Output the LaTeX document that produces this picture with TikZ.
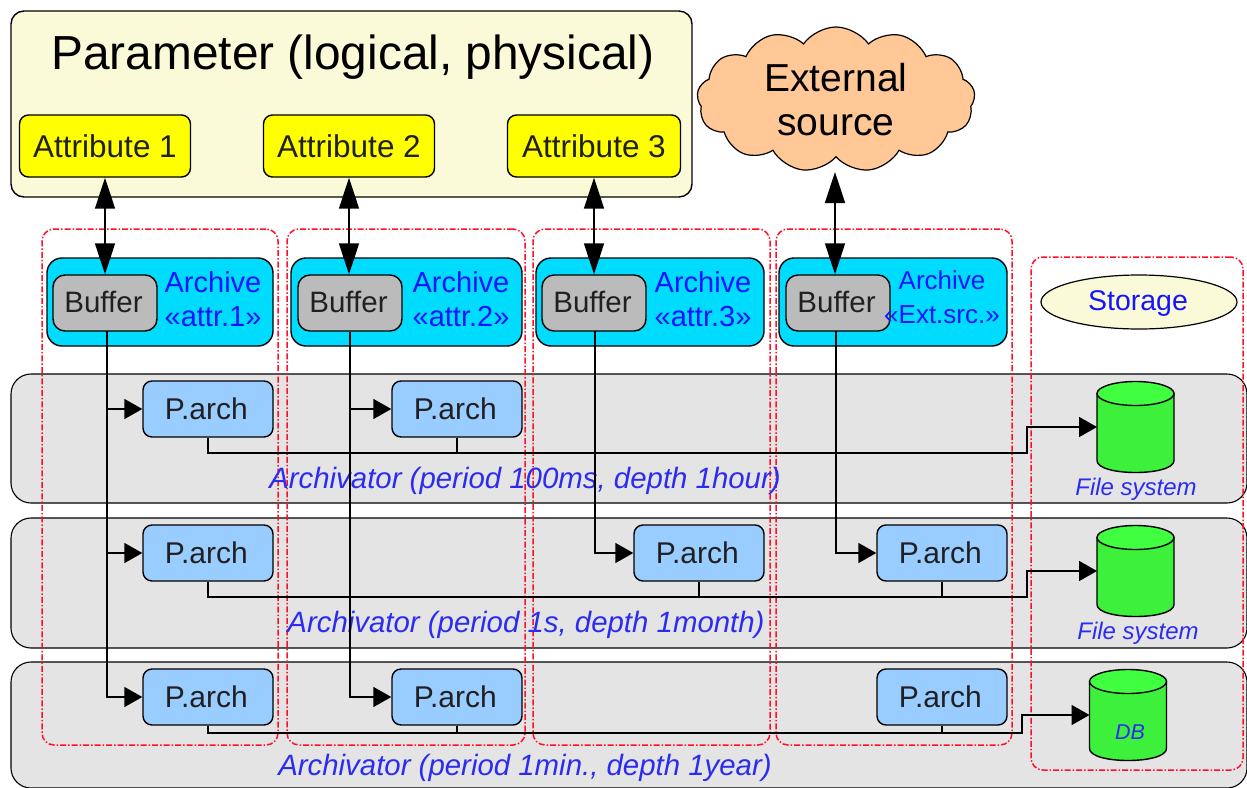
\documentclass[tikz,border=0pt]{standalone}
\usepackage{fontspec}
\setmainfont{Liberation Sans}
\usetikzlibrary{shapes.geometric,shapes.symbols,arrows.meta}
\definecolor{paramfill}{HTML}{FAFAD8}
\definecolor{attrfill}{HTML}{FFFF00}
\definecolor{archfill}{HTML}{00DCFF}
\definecolor{buffill}{HTML}{BBBBBB}
\definecolor{parchfill}{HTML}{99CCFF}
\definecolor{lanefill}{HTML}{E4E4E4}
\definecolor{cloudfill}{HTML}{FFC896}
\definecolor{cylbody}{HTML}{3CF03C}
\definecolor{cyltop}{HTML}{40FF40}
\definecolor{blueA}{HTML}{1414FF}
\definecolor{blueB}{HTML}{2C2CF0}
\definecolor{inktext}{HTML}{202020}
\definecolor{groupred}{HTML}{FF1028}
\newcommand{\fs}[2]{\fontsize{#1}{#2}\selectfont}
\newcommand{\parchtxt}{\raisebox{1pt}{P.arch}\kern3.5pt}
\newcommand{\buftxt}{\raisebox{2pt}{Buffer}\kern3pt}
% named cylinder: centre coordinate (#1) at (#2,#3), west anchor coordinate (#1w)
\newcommand{\dbcylinder}[3]{%
  \coordinate (#1) at (#2,#3);
  \begin{scope}[shift={(#2,#3)}]
    \coordinate (#1w) at (-38.5,0);
    \draw[cylline,fill=cylbody] (-38.5,-33.5) -- (-38.5,33.5)
      .. controls (-38.5,49.5) and (38.5,49.5) .. (38.5,33.5) -- (38.5,-33.5) -- cycle;
    \draw[cylline,fill=cyltop] (0,-33.5) ellipse [x radius=38.5,y radius=12];
  \end{scope}}
\tikzset{
  x=1pt,y=-1pt,
  base/.style={draw=black,line width=1.4pt,inner sep=0pt,rectangle},
  parambox/.style={base,fill=paramfill,rounded corners=13pt,minimum width=681pt,minimum height=186pt},
  lanebox/.style={base,fill=lanefill,line width=1.1pt,rounded corners=20pt,minimum width=1236pt},
  attrbox/.style={base,fill=attrfill,rounded corners=9pt,minimum height=62pt,text=inktext,font=\fs{31.5}{34}},
  archbox/.style={base,fill=archfill,rounded corners=15pt,minimum height=88pt},
  bufbox/.style={base,fill=buffill,rounded corners=12pt,minimum width=104pt,minimum height=56pt,text=inktext,font=\fs{29.5}{32}},
  parchbox/.style={base,fill=parchfill,rounded corners=9pt,minimum width=130pt,minimum height=56pt,text=inktext,font=\fs{30}{32}},
  groupbox/.style={draw=groupred,line width=1.5pt,rectangle,inner sep=0pt,rounded corners=12pt,dash pattern=on 6pt off 2pt on 1.5pt off 2pt},
  archlabel/.style={inner sep=0pt,align=center,text=blueA,font=\fs{29}{34}},
  lanelabel/.style={inner sep=0pt,text=blueB,font=\fs{29.4}{32}\itshape},
  dblabel/.style={inner sep=0pt,text=blueB,font=\fs{24}{28}\itshape},
  cylline/.style={draw=black,line width=1.4pt},
  flow/.style={draw=black,line width=1.5pt},
  feed/.style={flow,-{Triangle[length=18pt,width=20pt]}},
  dual/.style={flow,{Triangle[length=31pt,width=20pt]}-{Triangle[length=31pt,width=20pt]}},
}
\begin{document}
\begin{tikzpicture}
\useasboundingbox (0,0) rectangle (1247,787);
% parameter block
\node[parambox] (param) at (351.5,104) {};
\node[inner sep=0pt,text=black,font=\fs{47.8}{50}] (ptitle) at (353,57) {Parameter (logical, physical)};
\node[attrbox,minimum width=171pt] (a1) at (105,146) {Attribute 1};
\node[attrbox,minimum width=171pt] (a2) at (349,146) {Attribute 2};
\node[attrbox,minimum width=173pt] (a3) at (594,146) {Attribute 3};
% cloud
\node[cloud,cloud puffs=13,cloud puff arc=110,aspect=1.9,draw=black,line width=1.2pt,fill=cloudfill,inner sep=0pt,
      minimum width=278pt,minimum height=145pt] (ext) at (836,99.5) {};
\node[inner sep=0pt,align=center,text=black,font=\fs{39}{44}] (exttext) at (836,100) {External\\source};
% lanes
\node[lanebox,minimum height=129pt] (l1) at (629,438.5) {};
\node[lanebox,minimum height=130pt] (l2) at (629,583) {};
\node[lanebox,minimum height=126pt] (l3) at (629,725) {};
% red groups
\node[groupbox,minimum width=236pt,minimum height=516pt] (g1) at (160,487) {};
\node[groupbox,minimum width=238pt,minimum height=516pt] (g2) at (406,487) {};
\node[groupbox,minimum width=237pt,minimum height=516pt] (g3) at (651.5,487) {};
\node[groupbox,minimum width=236pt,minimum height=516pt] (g4) at (894,487) {};
\node[groupbox,minimum width=212pt,minimum height=513pt] (g5) at (1137,513.5) {};
% archives
\node[archbox,minimum width=226pt] (ar1) at (160,302) {};
\node[archbox,minimum width=231pt] (ar2) at (406.5,302) {};
\node[archbox,minimum width=228pt] (ar3) at (650,302) {};
\node[archbox,minimum width=228pt] (ar4) at (893,302) {};
\node[bufbox] (b1) at (105,303) {\buftxt};
\node[bufbox] (b2) at (350,303) {\buftxt};
\node[bufbox] (b3) at (594,303) {\buftxt};
\node[bufbox] (b4) at (838,303) {\buftxt};
\node[archlabel] (t1) at (213,299) {Archive\\«attr.1»};
\node[archlabel] (t2) at (461,299) {Archive\\«attr.2»};
\node[archlabel] (t3) at (703,299) {Archive\\«attr.3»};
\node[archlabel,font=\fs{26}{34}] (t4) at (942,297) {Archive\\«Ext.src.»};
% storage
\node[ellipse,draw=black,line width=1.2pt,fill=paramfill,inner sep=0pt,minimum width=196pt,minimum height=54pt] (stor) at (1139,302) {};
\node[inner sep=0pt,text=blueA,font=\fs{28.5}{32}] (stortext) at (1138,304) {Storage};
% P.arch
\node[parchbox] (p11) at (208,409) {\parchtxt};
\node[parchbox] (p12) at (457,409) {\parchtxt};
\node[parchbox] (p21) at (208,553) {\parchtxt};
\node[parchbox] (p23) at (699,553) {\parchtxt};
\node[parchbox] (p24) at (942,553) {\parchtxt};
\node[parchbox] (p31) at (208,697) {\parchtxt};
\node[parchbox] (p32) at (457,697) {\parchtxt};
\node[parchbox] (p34) at (942,697) {\parchtxt};
% cylinders
\dbcylinder{c1}{1135.5}{427}
\dbcylinder{c2}{1135.5}{571}
\dbcylinder{c3}{1128}{715}
% labels
\node[lanelabel] (la1) at (525,481) {Archivator (period 100ms, depth 1hour)};
\node[lanelabel] (la2) at (526,625) {Archivator (period 1s, depth 1month)};
\node[lanelabel] (la3) at (525,768) {Archivator (period 1min., depth 1year)};
\node[dblabel] (f1) at (1136,489) {File system};
\node[dblabel] (f2) at (1138,633) {File system};
\node[dblabel,font=\fs{21.5}{24}\itshape] (f3) at (1130,732) {DB};
% dual connectors
\draw[dual] (a1.south) -- (a1.south |- b1.north);
\draw[dual] (a2.south) -- (a2.south |- b2.north);
\draw[dual] (a3.south) -- (a3.south |- b3.north);
\coordinate (extb) at (835,172);
\draw[dual] (extb) -- (extb |- b4.north);
% feeds
\coordinate (b1o) at (107,331);
\coordinate (b3o) at (595,331);
\coordinate (b4o) at (836,331);
\draw[feed] (b1o) |- (p11.west);
\draw[feed] (b1o) |- (p21.west);
\draw[feed] (b1o) |- (p31.west);
\draw[feed] (b2.south) |- (p12.west);
\draw[feed] (b2.south) |- (p32.west);
\draw[feed] (b3o) |- (p23.west);
\draw[feed] (b4o) |- (p24.west);
% outputs
\coordinate (k1) at (1027,453);
\coordinate (k2) at (1027,597);
\coordinate (k3) at (1022,733);
\draw[feed] (p11.south) |- (k1) |- (c1w);
\draw[flow] (p12.south) -- (p12.south |- k1);
\draw[feed] (p21.south) |- (k2) |- (c2w);
\draw[flow] (p23.south) -- (p23.south |- k2);
\draw[flow] (p24.south) -- (p24.south |- k2);
\draw[feed] (p31.south) |- (k3) |- (c3w);
\draw[flow] (p32.south) -- (p32.south |- k3);
\draw[flow] (p34.south) -- (p34.south |- k3);
\end{tikzpicture}
\end{document}
